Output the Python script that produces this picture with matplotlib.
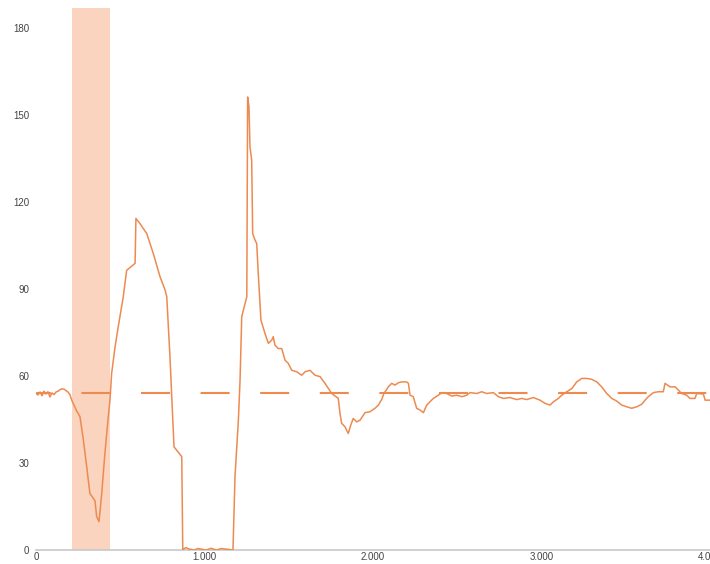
import matplotlib
matplotlib.use("Agg")
import matplotlib.pyplot as plt
from matplotlib.ticker import FuncFormatter, MultipleLocator

# readings: time step vs. value
steps = [0, 12, 24, 36, 47, 59, 71, 83, 95, 107, 119, 131, 142, 154, 166, 178,
         190, 202, 212, 241, 261, 281, 301, 320, 340, 350, 360, 374, 390, 409,
         429, 439, 449, 469, 488, 518, 538, 588, 593, 617, 657, 696, 736, 766,
         776, 795, 805, 819, 865, 871, 890, 910, 940, 960, 990, 1010, 1040,
         1070, 1100, 1130, 1169, 1181, 1201, 1211, 1221, 1251, 1256, 1264,
         1270, 1280, 1286, 1300, 1310, 1319, 1335, 1359, 1379, 1399, 1408,
         1418, 1438, 1458, 1478, 1497, 1518, 1547, 1577, 1597, 1626, 1656,
         1686, 1715, 1755, 1794, 1804, 1814, 1834, 1853, 1868, 1883, 1903,
         1923, 1953, 1982, 2012, 2032, 2052, 2065, 2091, 2111, 2131, 2150,
         2170, 2200, 2210, 2220, 2239, 2259, 2279, 2299, 2319, 2338, 2358,
         2388, 2408, 2437, 2467, 2497, 2527, 2556, 2576, 2616, 2645, 2675,
         2714, 2744, 2774, 2813, 2853, 2883, 2912, 2952, 2991, 3021, 3051,
         3070, 3100, 3120, 3150, 3180, 3209, 3239, 3268, 3298, 3328, 3357,
         3387, 3417, 3446, 3476, 3506, 3535, 3565, 3595, 3615, 3634, 3664,
         3693, 3723, 3733, 3763, 3793, 3812, 3832, 3862, 3881, 3911, 3921,
         3961, 3971, 4000]
values = [54.0, 53.5, 54.5, 53.2, 54.8, 53.8, 54.6, 52.8, 54.2, 53.6, 54.5,
          54.8, 55.3, 55.6, 55.5, 55.0, 54.5, 53.5, 51.7, 48.0, 46.0, 38.0,
          28.7, 19.5, 17.8, 17.0, 11.5, 9.8, 19.5, 33.4, 46.0, 51.7, 61.0,
          70.0, 77.0, 87.4, 96.5, 98.9, 114.4, 112.6, 109.2, 102.3, 94.3, 89.7,
          87.4, 66.7, 54.0, 35.6, 32.2, 0.2, 0.8, 0.3, 0.0, 0.5, 0.2, 0.0, 0.6,
          0.0, 0.5, 0.3, 0.0, 25.3, 44.8, 58.6, 80.5, 87.4, 156.3, 152.9,
          139.0, 134.5, 109.2, 106.9, 105.7, 95.4, 79.3, 74.7, 71.3, 72.4,
          73.6, 70.7, 69.5, 69.5, 65.5, 64.4, 62.0, 61.5, 60.3, 61.5, 62.0,
          60.3, 59.8, 57.5, 54.0, 52.3, 47.2, 43.7, 42.5, 40.2, 43.1, 45.4,
          44.2, 44.8, 47.4, 47.7, 48.9, 50.0, 52.0, 54.0, 56.3, 57.5, 56.9,
          57.7, 58.0, 58.0, 57.5, 53.4, 52.9, 48.9, 48.3, 47.4, 50.0, 51.1,
          52.3, 53.4, 54.3, 54.0, 53.1, 53.4, 52.9, 53.4, 54.3, 54.0, 54.6,
          54.0, 54.3, 52.9, 52.3, 52.6, 51.9, 52.3, 51.9, 52.6, 51.7, 50.6,
          50.0, 51.1, 52.3, 53.4, 54.6, 55.7, 58.0, 59.2, 59.2, 58.9, 58.0,
          56.3, 54.0, 52.3, 51.4, 50.0, 49.4, 48.9, 49.4, 50.3, 51.7, 52.9,
          54.3, 54.6, 54.6, 57.5, 56.3, 56.3, 55.2, 54.0, 53.4, 52.3, 52.3,
          54.0, 53.8, 51.7, 51.7]

target = 54
window = (215, 440)

line_color = "#ED8A50"
band_color = "#FAD4BE"

fig = plt.figure(figsize=(7.1, 5.64), dpi=100)
ax = fig.add_axes([36 / 710, 14 / 564, 1 - 36 / 710, 1 - 22 / 564])

ax.axvspan(window[0], window[1], color=band_color, lw=0, zorder=1)
ax.plot([0, 4000], [target, target], color=line_color, lw=1.5,
        linestyle=(6.8, (20.9 / 1.5, 22.0 / 1.5)), zorder=2)
ax.plot(steps, values, color=line_color, lw=1.1, zorder=3)

ax.set_xlim(0, 4000)
ax.set_ylim(0, 187)
ax.xaxis.set_major_locator(MultipleLocator(1000))
ax.yaxis.set_major_locator(MultipleLocator(30))
ax.xaxis.set_major_formatter(FuncFormatter(lambda v, p: f"{int(v):,}".replace(",", ".")))
ax.yaxis.set_major_formatter(FuncFormatter(lambda v, p: f"{int(v)}" if v <= 180 else ""))

for s in ["top", "right", "left"]:
    ax.spines[s].set_visible(False)
ax.spines["bottom"].set_color("#c8c8c8")
ax.spines["bottom"].set_linewidth(1.2)
ax.tick_params(length=0, labelsize=7, labelcolor="#444444")
ax.tick_params(axis="y", pad=5)
ax.tick_params(axis="x", pad=1.5)
for lbl in ax.get_xticklabels() + ax.get_yticklabels():
    lbl.set_fontfamily("Liberation Sans")

fig.savefig("out.png", dpi=100)
